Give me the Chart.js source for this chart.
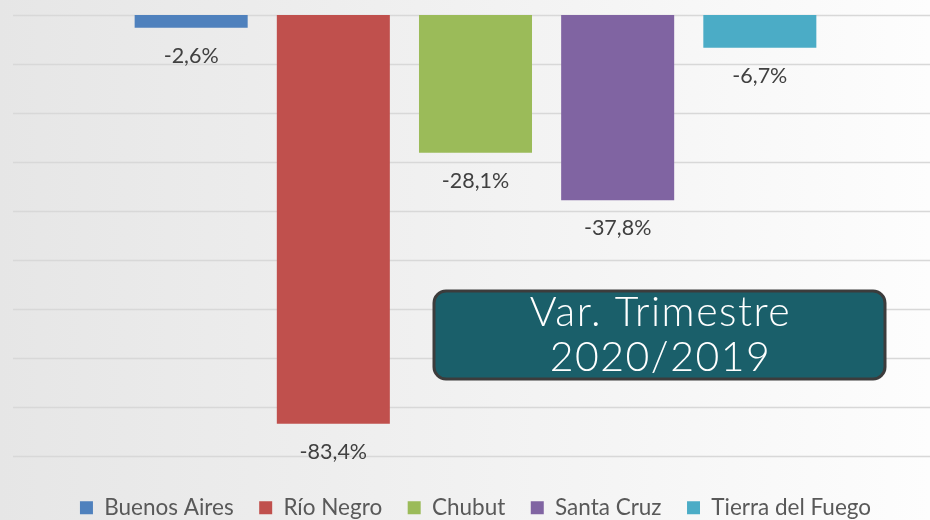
<!DOCTYPE html>
<html><head><meta charset="utf-8">
<script src="https://cdn.jsdelivr.net/npm/chart.js@4/dist/chart.umd.min.js"></script>
<style>
html,body{margin:0;padding:0;}
body{width:930px;height:520px;overflow:hidden;background:linear-gradient(90deg,#e6e6e6 0%,#f0f0f0 45%,#fdfdfd 100%);}
#wrap{position:relative;width:930px;height:520px;}
</style></head>
<body><div id="wrap"><canvas id="c" width="930" height="520"></canvas></div>
<script>
const categories = ["Var. Trimestre 2020/2019"];
const seriesNames = ["Buenos Aires", "Río Negro", "Chubut", "Santa Cruz", "Tierra del Fuego"];
const seriesValues = [-2.6, -83.4, -28.1, -37.8, -6.7];
const seriesColors = ["#4f81bd", "#c0504d", "#9bbb59", "#8064a2", "#4bacc6"];
const yTicks = [0, -10, -20, -30, -40, -50, -60, -70, -80, -90];
const boxLines = ["Var. Trimestre", "2020/2019"];

const fmt = v => v.toFixed(1).replace('.', ',') + '%';

const gridPlugin = {
  id: 'fullGrid',
  beforeDatasetsDraw(chart) {
    const y = chart.scales.y, ctx = chart.ctx;
    ctx.save();
    ctx.strokeStyle = '#d8d8d8';
    ctx.lineWidth = 1.4;
    yTicks.forEach(t => {
      const py = Math.round(y.getPixelForValue(t)) + 0.5;
      ctx.beginPath(); ctx.moveTo(13, py); ctx.lineTo(930, py); ctx.stroke();
    });
    ctx.restore();
  }
};

const labelPlugin = {
  id: 'valLabels',
  afterDatasetsDraw(chart) {
    const ctx = chart.ctx;
    ctx.save();
    ctx.font = '21.5px Lato, "Open Sans", sans-serif';
    ctx.fillStyle = '#404040';
    ctx.textAlign = 'center';
    ctx.textBaseline = 'middle';
    chart.data.datasets.forEach((ds, i) => {
      const el = chart.getDatasetMeta(i).data[0];
      ctx.fillText(fmt(ds.data[0]), el.x, el.y + 28);
    });
    ctx.restore();
  },
  afterDraw(chart) {
    const ctx = chart.ctx;
    const x0 = 434, y0 = 291, w = 451, h = 88, r = 12;
    ctx.save();
    ctx.beginPath();
    ctx.roundRect(x0, y0, w, h, r);
    ctx.fillStyle = '#1a5f6a';
    ctx.fill();
    ctx.lineWidth = 3;
    ctx.strokeStyle = '#3c3c3c';
    ctx.stroke();
    ctx.fillStyle = '#ffffff';
    ctx.font = '300 41px Lato, "DejaVu Sans", sans-serif';
    ctx.letterSpacing = '1.5px';
    ctx.textAlign = 'center';
    ctx.textBaseline = 'middle';
    ctx.fillText(boxLines[0], x0 + w / 2 + 1, 313);
    ctx.fillText(boxLines[1], x0 + w / 2 + 1, 358);
    ctx.restore();
  }
};

new Chart(document.getElementById('c'), {
  type: 'bar',
  data: {
    labels: categories,
    datasets: seriesNames.map((n, i) => ({
      label: n,
      data: [seriesValues[i]],
      backgroundColor: seriesColors[i],
      borderWidth: 0,
      categoryPercentage: 0.782,
      barPercentage: 0.795
    }))
  },
  options: {
    responsive: false,
    animation: false,
    devicePixelRatio: 1,
    layout: { padding: { left: 21, right: 0, top: 15, bottom: -9 } },
    scales: {
      x: { display: false },
      y: { display: false, min: -90, max: 0 }
    },
    plugins: {
      tooltip: { enabled: false },
      legend: {
        position: 'bottom',
        title: { display: true, text: '', font: { size: 2 }, padding: { top: 7.5, bottom: 5 } },
        labels: {
          boxWidth: 13, boxHeight: 13, padding: 25.5,
          color: '#595959',
          font: { family: 'Lato, "Open Sans", sans-serif', size: 22.5 }
        }
      }
    }
  },
  plugins: [gridPlugin, labelPlugin]
});
</script>
</body></html>
